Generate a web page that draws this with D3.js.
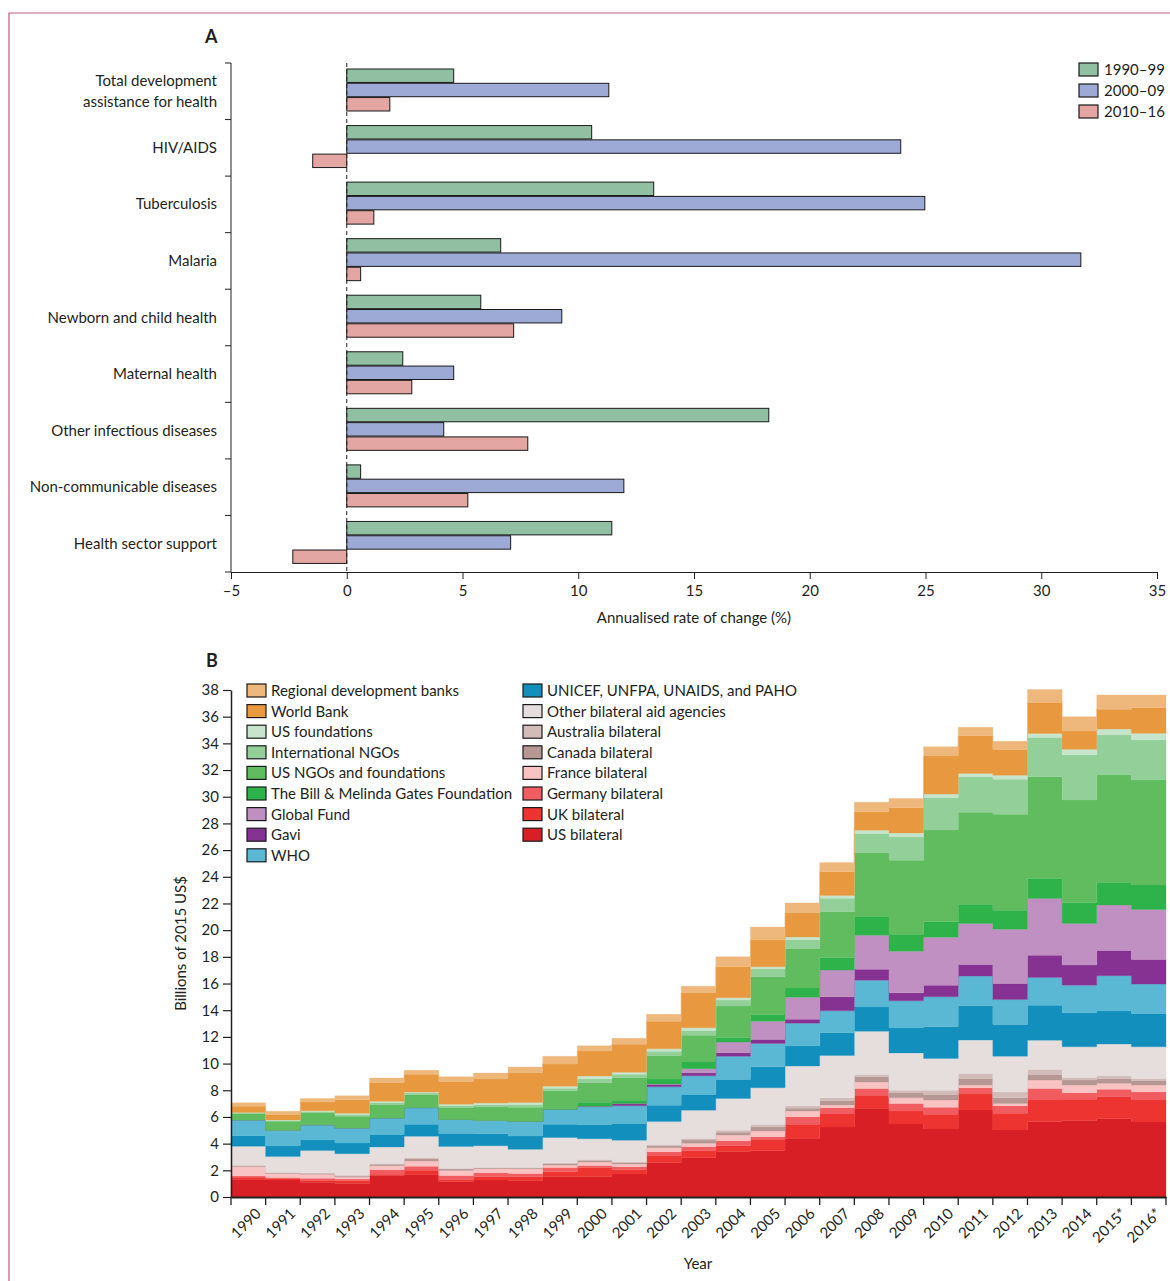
<!DOCTYPE html>
<html><head><meta charset="utf-8">
<script src="https://cdn.jsdelivr.net/npm/d3@7"></script>
<style>
body{margin:0;background:#fff;}
svg text{font-family:Lato,"Liberation Sans",sans-serif;fill:#231f20;}
</style></head><body>
<svg id="c" width="1170" height="1281"></svg>
<script>
// ---------- Panel A data ----------
const categoriesA = ["Total development|assistance for health","HIV/AIDS","Tuberculosis","Malaria","Newborn and child health","Maternal health","Other infectious diseases","Non-communicable diseases","Health sector support"];
const periodsA = ["1990–99","2000–09","2010–16"];
const rate1990s = [4.62,10.58,13.26,6.65,5.79,2.42,18.23,0.6,11.45];
const rate2000s = [11.32,23.93,24.97,31.71,9.29,4.62,4.19,11.97,7.08];
const rate2010s = [1.86,-1.47,1.17,0.6,7.21,2.81,7.82,5.23,-2.33];
const xTicksA = [-5,0,5,10,15,20,25,30,35];

// ---------- Panel B data (billions of 2015 US$) ----------
const years = ["1990","1991","1992","1993","1994","1995","1996","1997","1998","1999","2000","2001","2002","2003","2004","2005","2006","2007","2008","2009","2010","2011","2012","2013","2014","2015*","2016*"];
const usBilateral      = [1.33,1.27,1.1,1.02,1.6,1.7,1.15,1.27,1.22,1.52,1.52,1.72,2.57,2.95,3.4,3.47,4.4,5.25,6.65,5.47,5.1,6.52,5.02,5.65,5.72,5.87,5.62];
const ukBilateral      = [0.15,0.12,0.15,0.2,0.1,0.3,0.12,0.25,0.3,0.37,0.7,0.35,0.5,0.52,0.45,0.8,1.05,0.97,0.97,0.97,1.1,1.2,1.25,1.62,1.6,1.65,1.65];
const germanyBilateral = [0.1,0.07,0.15,0.12,0.35,0.3,0.35,0.3,0.25,0.33,0.15,0.2,0.33,0.3,0.37,0.25,0.57,0.47,0.52,0.57,0.52,0.47,0.57,0.87,0.5,0.55,0.62];
const franceBilateral  = [0.7,0.3,0.3,0.17,0.3,0.4,0.37,0.3,0.35,0.17,0.25,0.2,0.3,0.25,0.42,0.42,0.43,0.2,0.47,0.42,0.55,0.2,0.17,0.62,0.57,0.45,0.5];
const canadaBilateral  = [0.05,0.04,0.06,0.07,0.1,0.15,0.1,0.05,0.06,0.1,0.12,0.1,0.12,0.25,0.22,0.3,0.2,0.33,0.4,0.37,0.42,0.5,0.42,0.42,0.37,0.35,0.33];
const australiaBilateral = [0.05,0.03,0.05,0.05,0.05,0.1,0.05,0.05,0.04,0.07,0.08,0.07,0.08,0.12,0.15,0.2,0.17,0.22,0.17,0.2,0.32,0.37,0.45,0.37,0.2,0.2,0.17];
const otherBilateral   = [1.42,1.2,1.67,1.62,1.25,1.6,1.65,1.62,1.35,1.9,1.55,1.62,1.75,2.12,2.38,2.75,3.0,3.17,3.24,2.8,2.37,2.5,2.67,2.2,2.3,2.4,2.37];
const unAgencies       = [0.8,0.8,0.8,0.8,0.93,0.9,0.97,0.9,1.0,1.0,1.07,1.25,1.22,1.17,1.42,1.57,1.5,1.7,1.83,1.87,2.38,2.57,2.37,2.62,2.55,2.47,2.5];
const who              = [1.18,1.18,1.13,1.13,1.25,1.25,1.05,1.0,1.1,1.1,1.32,1.32,1.4,1.4,1.73,1.75,1.7,1.65,2.0,2.03,2.25,2.23,1.88,2.08,2.07,2.65,2.2];
const gavi             = [0,0,0,0,0,0,0,0,0,0,0.05,0.17,0.17,0.22,0.27,0.3,0.3,1.05,0.82,0.6,0.87,0.87,1.2,1.67,1.5,1.88,1.85];
const globalFund       = [0,0,0,0,0,0,0,0,0,0,0,0,0.03,0.32,0.8,1.37,1.65,2.0,2.55,3.12,3.58,3.07,4.07,4.25,3.12,3.42,3.74];
const gatesFoundation  = [0,0,0,0,0,0,0,0,0,0.1,0.3,0.25,0.37,0.55,0.35,0.5,0.7,0.92,1.42,1.28,1.17,1.45,1.42,1.5,1.55,1.7,1.83];
const usNgos           = [0.47,0.67,0.93,0.88,1.0,0.97,0.9,1.0,1.05,1.3,1.45,1.7,1.75,1.95,2.35,2.83,2.95,3.45,4.78,5.54,6.87,6.88,7.2,7.62,7.7,8.04,7.87];
const intlNgos         = [0.05,0.06,0.07,0.12,0.15,0.12,0.15,0.18,0.22,0.2,0.3,0.25,0.33,0.35,0.45,0.6,0.67,1.02,1.42,1.75,2.43,2.67,2.62,2.95,3.37,3.0,3.0];
const usFoundations    = [0.04,0.04,0.05,0.1,0.1,0.08,0.1,0.12,0.15,0.15,0.2,0.15,0.2,0.22,0.18,0.15,0.2,0.2,0.25,0.3,0.27,0.25,0.3,0.3,0.43,0.45,0.5];
const worldBank        = [0.47,0.4,0.67,1.0,1.4,1.33,1.7,1.8,2.2,1.65,1.88,2.1,2.05,2.6,2.32,2.0,1.8,1.78,1.38,1.88,2.85,2.82,1.93,2.32,1.37,1.48,1.92];
const regionalBanks    = [0.25,0.25,0.25,0.3,0.34,0.3,0.35,0.45,0.45,0.58,0.4,0.45,0.53,0.5,0.75,0.97,0.75,0.7,0.72,0.7,0.7,0.63,0.62,0.98,1.08,1.07,0.95];
const yTicksB = [0,2,4,6,8,10,12,14,16,18,20,22,24,26,28,30,32,34,36,38];

const sourcesB = [
  {name:"US bilateral", values:usBilateral, color:"#d91f26"},
  {name:"UK bilateral", values:ukBilateral, color:"#ee3430"},
  {name:"Germany bilateral", values:germanyBilateral, color:"#f05c5f"},
  {name:"France bilateral", values:franceBilateral, color:"#f9c3c3"},
  {name:"Canada bilateral", values:canadaBilateral, color:"#b59793"},
  {name:"Australia bilateral", values:australiaBilateral, color:"#d1bcb9"},
  {name:"Other bilateral aid agencies", values:otherBilateral, color:"#e6dedd"},
  {name:"UNICEF, UNFPA, UNAIDS, and PAHO", values:unAgencies, color:"#128fbd"},
  {name:"WHO", values:who, color:"#5ab8d4"},
  {name:"Gavi", values:gavi, color:"#853293"},
  {name:"Global Fund", values:globalFund, color:"#c190c2"},
  {name:"The Bill & Melinda Gates Foundation", values:gatesFoundation, color:"#2db34a"},
  {name:"US NGOs and foundations", values:usNgos, color:"#60bc5f"},
  {name:"International NGOs", values:intlNgos, color:"#93cf98"},
  {name:"US foundations", values:usFoundations, color:"#c6e5cc"},
  {name:"World Bank", values:worldBank, color:"#e8983e"},
  {name:"Regional development banks", values:regionalBanks, color:"#eeb87c"}
];

const svg = d3.select("#c");
const FS = 15;

// frame
svg.append("path").attr("d","M9,1281V13H1170").attr("fill","none").attr("stroke","#c45a78").attr("stroke-width",1.2);

// ================= Panel A =================
const A = {left:231, zero:347, right:1157, top:63, bottom:572};
const xA = d3.scaleLinear().domain([-5,35]).range([A.left, A.right]);
const yA = d3.scaleBand().domain(categoriesA).range([A.top, A.bottom]);
const sub = d3.scaleBand().domain(periodsA).range([6, 48]).paddingInner(0.06);
const colorsA = ["#90bfa2","#9eaad6","#e3a6a2"];
const ratesA = [rate1990s, rate2000s, rate2010s];

svg.append("text").attr("x",205).attr("y",43).attr("font-size",18).attr("font-weight","bold").text("A");

// category axis (left bracket)
const gYA = svg.append("g");
gYA.append("line").attr("x1",A.left).attr("x2",A.left).attr("y1",A.top).attr("y2",A.bottom).attr("stroke","#231f20");
const bounds = categoriesA.map(c=>yA(c)).concat([A.bottom]);
gYA.selectAll("line.tk").data(bounds).join("line").attr("class","tk")
  .attr("x1",A.left-6).attr("x2",A.left).attr("y1",d=>d).attr("y2",d=>d).attr("stroke","#231f20");
categoriesA.forEach(c=>{
  const lines = c.split("|");
  const cy = yA(c) + yA.bandwidth()/2 + 1;
  const t = gYA.append("text").attr("text-anchor","end").attr("font-size",FS);
  lines.forEach((l,i)=>{
    t.append("tspan").attr("x",217).attr("y", cy + (i - (lines.length-1)/2)*21 + 4).text(l);
  });
});

// bars
ratesA.forEach((arr,pi)=>{
  svg.append("g").selectAll("rect").data(arr).join("rect")
    .attr("x",d=>xA(Math.min(0,d)))
    .attr("width",d=>Math.abs(xA(d)-xA(0)))
    .attr("y",(d,i)=>yA(categoriesA[i]) + sub(periodsA[pi]))
    .attr("height",sub.bandwidth())
    .attr("fill",colorsA[pi]).attr("stroke","#1a1a1a").attr("stroke-width",1);
});
// zero dashed line
svg.append("line").attr("x1",xA(0)).attr("x2",xA(0)).attr("y1",A.top).attr("y2",A.bottom)
  .attr("stroke","#231f20").attr("stroke-dasharray","4,3");

// x axis
const gxA = svg.append("g").attr("transform",`translate(0,${A.bottom})`)
  .call(d3.axisBottom(xA).tickValues(xTicksA).tickSize(7).tickSizeOuter(0).tickFormat(d=>d<0?"–"+Math.abs(d):d));
gxA.select(".domain").attr("stroke","#231f20");
gxA.selectAll(".tick line").attr("stroke","#231f20");
gxA.selectAll("text").attr("font-size",FS).attr("font-family",null).attr("fill","#231f20").attr("dy","0.95em");
svg.append("text").attr("x",(A.left+A.right)/2).attr("y",623).attr("text-anchor","middle").attr("font-size",FS).text("Annualised rate of change (%)");

// legend A
periodsA.forEach((p,i)=>{
  const y = 63 + i*21;
  svg.append("rect").attr("x",1079).attr("y",y).attr("width",19).attr("height",13).attr("fill",colorsA[i]).attr("stroke","#1a1a1a").attr("stroke-width",1.2);
  svg.append("text").attr("x",1104).attr("y",y+12).attr("font-size",FS).text(p);
});

// ================= Panel B =================
const B = {left:231, right:1166, top:690, bottom:1197};
const xB = d3.scaleBand().domain(years).range([B.left, B.right]).padding(0);
const yB = d3.scaleLinear().domain([0,38]).range([B.bottom, B.top]);

svg.append("text").attr("x",206).attr("y",667).attr("font-size",18).attr("font-weight","bold").text("B");

const table = years.map((y,i)=>{
  const row = {year:y};
  sourcesB.forEach(s=>row[s.name]=s.values[i]);
  return row;
});
const stacked = d3.stack().keys(sourcesB.map(s=>s.name))(table);
const area = d3.area()
  .x(d=>d.x).y0(d=>yB(d.y0)).y1(d=>yB(d.y1))
  .curve(d3.curveStepAfter);
const gAreas = svg.append("g");
stacked.forEach((layer,li)=>{
  const pts = layer.map((d,i)=>({x:xB(years[i]), y0:d[0], y1:d[1]}));
  const last = layer[layer.length-1];
  pts.push({x:B.right, y0:last[0], y1:last[1]});
  gAreas.append("path").attr("d",area(pts)).attr("fill",sourcesB[li].color)
    .attr("stroke",sourcesB[li].color).attr("stroke-width",0.3);
});

// y axis
const gyB = svg.append("g").attr("transform",`translate(${B.left},0)`)
  .call(d3.axisLeft(yB).tickValues(yTicksB).tickSize(8).tickSizeOuter(0));
gyB.select(".domain").attr("stroke","#231f20").attr("stroke-width",1.5);
gyB.selectAll(".tick line").attr("stroke","#231f20").attr("stroke-width",1.2);
gyB.selectAll("text").attr("font-size",FS).attr("font-family",null).attr("fill","#231f20").attr("x",-12);
svg.append("text").attr("transform",`translate(186,${(B.top+B.bottom)/2}) rotate(-90)`).attr("text-anchor","middle").attr("font-size",FS).text("Billions of 2015 US$");

// x axis
const gxB = svg.append("g").attr("transform",`translate(0,${B.bottom})`)
  .call(d3.axisBottom(xB).tickSize(0).tickSizeOuter(0));
gxB.select(".domain").attr("stroke","#231f20").attr("stroke-width",2);
gxB.selectAll(".tick text").attr("font-size",FS).attr("font-family",null).attr("fill","#231f20")
  .attr("text-anchor","end").attr("transform","translate(4,8) rotate(-45)").attr("dy","0.7em").attr("dx","0");
const edges = years.map(y=>xB(y)).concat([B.right]);
svg.append("g").selectAll("line").data(edges).join("line")
  .attr("x1",d=>d).attr("x2",d=>d).attr("y1",B.bottom).attr("y2",B.bottom+8).attr("stroke","#231f20").attr("stroke-width",1.3);
svg.append("text").attr("x",698).attr("y",1269).attr("text-anchor","middle").attr("font-size",FS).text("Year");

// legend B
const colL = ["Regional development banks","World Bank","US foundations","International NGOs","US NGOs and foundations","The Bill & Melinda Gates Foundation","Global Fund","Gavi","WHO"];
const colR = ["UNICEF, UNFPA, UNAIDS, and PAHO","Other bilateral aid agencies","Australia bilateral","Canada bilateral","France bilateral","Germany bilateral","UK bilateral","US bilateral"];
const byName = Object.fromEntries(sourcesB.map(s=>[s.name,s]));
[[colL,247],[colR,523]].forEach(([col,x0])=>{
  col.forEach((n,i)=>{
    const y = 684 + i*20.6;
    svg.append("rect").attr("x",x0).attr("y",y).attr("width",19).attr("height",13).attr("fill",byName[n].color).attr("stroke","#1a1a1a").attr("stroke-width",1.2);
    svg.append("text").attr("x",x0+24).attr("y",y+12).attr("font-size",FS).text(n);
  });
});
</script></body></html>
